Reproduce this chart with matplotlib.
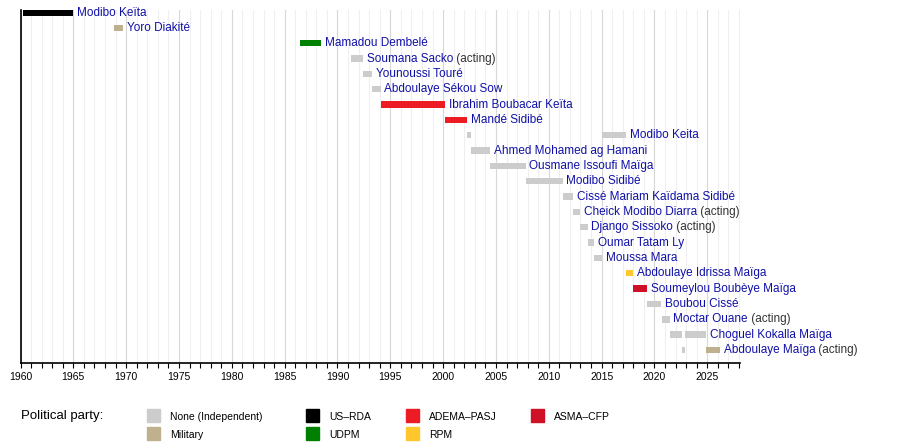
import matplotlib.pyplot as plt
from matplotlib.patches import Rectangle
from matplotlib.ticker import MultipleLocator

# prime ministers, one row each, top to bottom
pm_names = ["Modibo Keïta", "Yoro Diakité", "Mamadou Dembelé", "Soumana Sacko",
            "Younoussi Touré", "Abdoulaye Sékou Sow", "Ibrahim Boubacar Keïta",
            "Mandé Sidibé", "Modibo Keita", "Ahmed Mohamed ag Hamani",
            "Ousmane Issoufi Maïga", "Modibo Sidibé", "Cissé Mariam Kaïdama Sidibé",
            "Cheick Modibo Diarra", "Django Sissoko", "Oumar Tatam Ly",
            "Moussa Mara", "Abdoulaye Idrissa Maïga", "Soumeylou Boubèye Maïga",
            "Boubou Cissé", "Moctar Ouane", "Choguel Kokalla Maïga", "Abdoulaye Maïga"]
pm_acting = [False, False, False, True, False, False, False, False, False, False,
             False, False, False, True, True, False, False, False, False, False,
             True, False, True]

# terms: row index, start year, end year, party
term_row = [0, 1, 2, 3, 4, 5, 6, 7, 8, 8, 9, 10, 11, 12, 13, 14, 15, 16, 17, 18,
            19, 20, 21, 21, 22, 22]
term_start = [1960.25, 1968.88, 1986.45, 1991.28, 1992.43, 1993.3, 1994.1, 2000.2,
              2002.3, 2015.05, 2002.6, 2004.45, 2007.8, 2011.3, 2012.3, 2012.95,
              2013.7, 2014.3, 2017.3, 2017.98, 2019.3, 2020.75, 2021.45, 2022.93,
              2022.62, 2024.88]
term_end = [1965.0, 1969.7, 1988.45, 1992.43, 1993.3, 1994.1, 2000.2, 2002.3,
            2002.6, 2017.3, 2004.45, 2007.8, 2011.3, 2012.3, 2012.95, 2013.7,
            2014.3, 2015.05, 2017.98, 2019.3, 2020.63, 2021.45, 2022.62, 2024.88,
            2022.93, 2026.2]
term_party = ["US-RDA", "Military", "UDPM", "None", "None", "None", "ADEMA", "ADEMA",
              "None", "None", "None", "None", "None", "None", "None", "None",
              "None", "None", "RPM", "ASMA", "None", "None", "None", "None",
              "None", "Military"]

party_keys = ["None", "Military", "US-RDA", "UDPM", "ADEMA", "RPM", "ASMA"]
party_labels = ["None (Independent)", "Military", "US–RDA", "UDPM", "ADEMA–PASJ",
                "RPM", "ASMA–CFP"]
party_colors = ["#cccccc", "#bfb08e", "#000000", "#008000", "#ed1c24",
                "#ffc72c", "#ce1126"]
color_of = dict(zip(party_keys, party_colors))

name_color = "#1010a8"
plt.rcParams['font.family'] = ["Liberation Sans", "DejaVu Sans"]

fig = plt.figure(figsize=(9, 4.42), dpi=100)
W, H = 900, 442
ax = fig.add_axes([20.5 / W, 1 - 362.7 / H, (740 - 20.5) / W, (362.7 - 10) / H])

for r, s, e, p in zip(term_row, term_start, term_end, term_party):
    ax.barh(r, e - s, left=s, height=0.42, color=color_of[p], zorder=3)

for i, name in enumerate(pm_names):
    x_end = max(e for r, e in zip(term_row, term_end) if r == i)
    t = ax.annotate(name, xy=(x_end, i), xytext=(2.6, 0), textcoords='offset points',
                    va='center', ha='left', fontsize=8.5, color=name_color, zorder=4)
    if pm_acting[i]:
        ax.annotate(" (acting)", xy=(1, 0.5), xycoords=t, va='center', ha='left',
                    fontsize=8.5, color="#333333", zorder=4)

ax.set_xlim(1960, 2028.1)
ax.set_ylim(22.83, -0.163)
ax.xaxis.set_major_locator(MultipleLocator(5))
ax.xaxis.set_minor_locator(MultipleLocator(1))
ax.grid(which='minor', axis='x', color="#efefef", lw=0.8, zorder=0)
ax.grid(which='major', axis='x', color="#d8d8d8", lw=0.8, zorder=1)
ax.set_yticks([])
for side in ['top', 'right']:
    ax.spines[side].set_visible(False)
ax.spines['left'].set_linewidth(1.2)
ax.spines['bottom'].set_linewidth(1.2)
ax.tick_params(axis='x', which='both', direction='out', length=3.5, width=0.8,
               color='black', pad=3, labelsize=7.5)

# legend
fig.text(21 / W, 1 - 416 / H, "Political party:", fontsize=9.5, va='center', ha='left')
leg_x = [147, 147, 306, 306, 406, 406, 531]
leg_y = [409, 427, 409, 427, 409, 427, 409]
for key, lab, col, lx, ly in zip(party_keys, party_labels, party_colors, leg_x, leg_y):
    fig.patches.append(Rectangle((lx / W, 1 - (ly + 13) / H), 13 / W, 13 / H,
                                 transform=fig.transFigure, color=col))
    fig.text((lx + 23) / W, 1 - (ly + 8.5) / H, lab, fontsize=7.5, va='center',
             ha='left')

fig.savefig("out.png", dpi=100, facecolor='white')
